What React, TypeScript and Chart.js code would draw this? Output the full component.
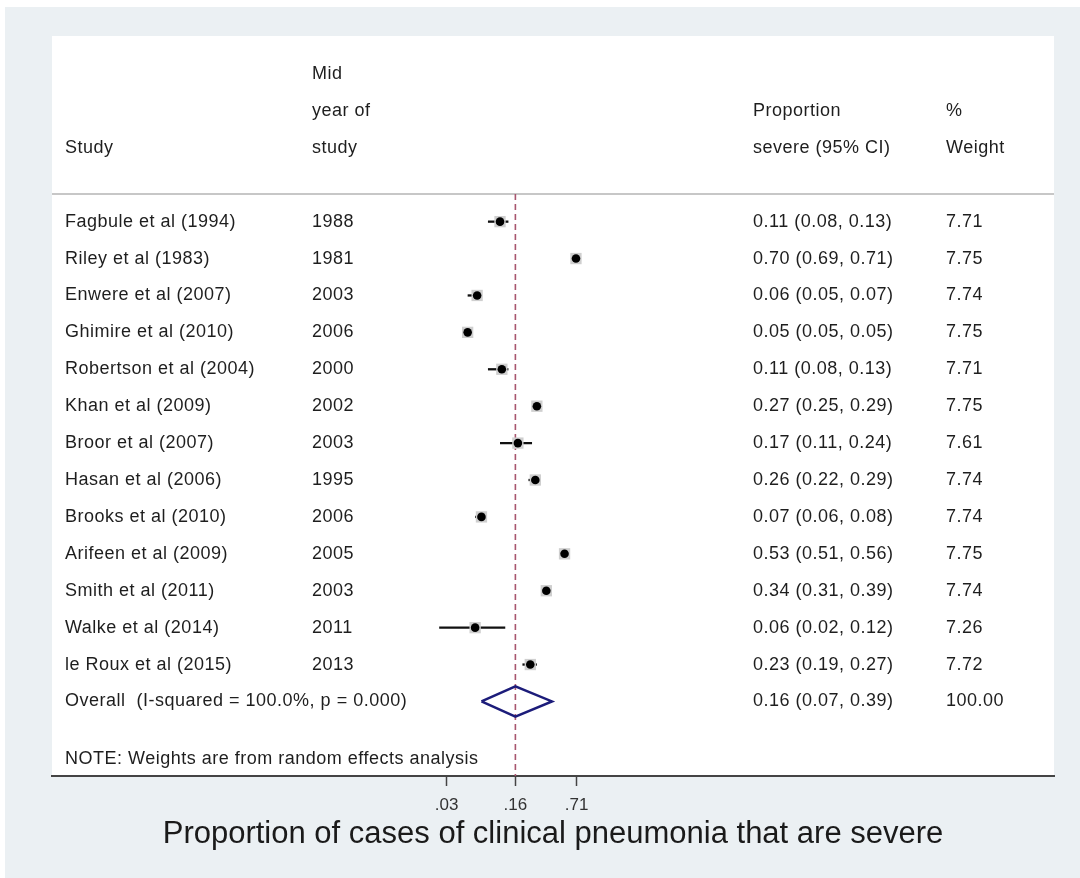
import React, { useEffect, useRef } from "react";
import { Chart, registerables } from "chart.js";

Chart.register(...registerables);

const STUDIES = [
  "Fagbule et al (1994)",
  "Riley et al (1983)",
  "Enwere et al (2007)",
  "Ghimire et al (2010)",
  "Robertson et al (2004)",
  "Khan et al (2009)",
  "Broor et al (2007)",
  "Hasan et al (2006)",
  "Brooks et al (2010)",
  "Arifeen et al (2009)",
  "Smith et al (2011)",
  "Walke et al (2014)",
  "le Roux et al (2015)",
];
const MID_YEARS = ["1988", "1981", "2003", "2006", "2000", "2002", "2003", "1995", "2006", "2005", "2003", "2011", "2013"];
const ESTIMATES = [0.11, 0.7, 0.063, 0.05, 0.115, 0.27, 0.17, 0.26, 0.07, 0.53, 0.34, 0.06, 0.23];
const LOWER = [0.082, 0.69, 0.05, 0.05, 0.082, 0.25, 0.11, 0.22, 0.06, 0.51, 0.31, 0.025, 0.19];
const UPPER = [0.135, 0.71, 0.07, 0.05, 0.135, 0.29, 0.24, 0.29, 0.08, 0.56, 0.39, 0.125, 0.27];
const CI_TEXT = [
  "0.11 (0.08, 0.13)",
  "0.70 (0.69, 0.71)",
  "0.06 (0.05, 0.07)",
  "0.05 (0.05, 0.05)",
  "0.11 (0.08, 0.13)",
  "0.27 (0.25, 0.29)",
  "0.17 (0.11, 0.24)",
  "0.26 (0.22, 0.29)",
  "0.07 (0.06, 0.08)",
  "0.53 (0.51, 0.56)",
  "0.34 (0.31, 0.39)",
  "0.06 (0.02, 0.12)",
  "0.23 (0.19, 0.27)",
];
const WEIGHTS = ["7.71", "7.75", "7.74", "7.75", "7.71", "7.75", "7.61", "7.74", "7.74", "7.75", "7.74", "7.26", "7.72"];

const OVERALL_LABEL = "Overall  (I-squared = 100.0%, p = 0.000)";
const OVERALL_EST = 0.16;
const OVERALL_LO = 0.07;
const OVERALL_HI = 0.39;
const OVERALL_TEXT = "0.16 (0.07, 0.39)";
const OVERALL_WEIGHT = "100.00";
const NOTE = "NOTE: Weights are from random effects analysis";

const X_TICKS = [0.03, 0.16, 0.71];
const X_TICK_LABELS = [".03", ".16", ".71"];
const X_TITLE = "Proportion of cases of clinical pneumonia that are severe";

const HEADER_STUDY = ["Study"];
const HEADER_YEAR = ["Mid", "year of", "study"];
const HEADER_PROP = ["Proportion", "severe (95% CI)"];
const HEADER_WEIGHT = ["%", "Weight"];

const X_MIN = 2e-6;
const X_MAX = 8e4;
const Y_MIN = -4.03;
const Y_MAX = 16.02;
const HEADER_LINE_ROW = 0.25;
const OVERALL_ROW = STUDIES.length + 1;
const NOTE_ROW = 15.55;

const FONT = '"Liberation Sans", Arial, Helvetica, sans-serif';

export default function App() {
  const ref = useRef<HTMLCanvasElement | null>(null);

  useEffect(() => {
    document.body.style.margin = "0";
    const canvas = ref.current;
    if (!canvas) return;

    const bgPlugin = {
      id: "bg",
      beforeDraw(chart: any) {
        const { ctx, chartArea } = chart;
        ctx.save();
        ctx.fillStyle = "#ffffff";
        ctx.fillRect(0, 0, chart.width, chart.height);
        ctx.fillStyle = "#ebf0f3";
        ctx.fillRect(5, 7, chart.width - 5, chart.height - 7);
        ctx.fillStyle = "#ffffff";
        ctx.fillRect(chartArea.left, chartArea.top, chartArea.right - chartArea.left, chartArea.bottom - chartArea.top);
        const y = chart.scales.y.getPixelForValue(HEADER_LINE_ROW);
        ctx.strokeStyle = "#b4b4b4";
        ctx.lineWidth = 1.5;
        ctx.beginPath();
        ctx.moveTo(chartArea.left, y);
        ctx.lineTo(chartArea.right, y);
        ctx.stroke();
        ctx.restore();
      },
    };

    const textPlugin = {
      id: "tableText",
      afterDraw(chart: any) {
        const { ctx, chartArea } = chart;
        const ys = chart.scales.y;
        const L = chartArea.left;
        const colStudy = L + 13;
        const colYear = L + 260;
        const colProp = L + 701;
        const colWeight = L + 894;
        ctx.save();
        ctx.fillStyle = "#1e1e1e";
        ctx.font = `18px ${FONT}`;
        ctx.textBaseline = "middle";
        ctx.textAlign = "left";
        try {
          (ctx as any).letterSpacing = "0.5px";
        } catch (e) {}
        const put = (t: string, x: number, row: number) => ctx.fillText(t, x, ys.getPixelForValue(row));
        HEADER_STUDY.forEach((t, i) => put(t, colStudy, -1 - (HEADER_STUDY.length - 1 - i)));
        HEADER_YEAR.forEach((t, i) => put(t, colYear, -1 - (HEADER_YEAR.length - 1 - i)));
        HEADER_PROP.forEach((t, i) => put(t, colProp, -1 - (HEADER_PROP.length - 1 - i)));
        HEADER_WEIGHT.forEach((t, i) => put(t, colWeight, -1 - (HEADER_WEIGHT.length - 1 - i)));
        STUDIES.forEach((s, i) => {
          const r = i + 1;
          put(s, colStudy, r);
          put(MID_YEARS[i], colYear, r);
          put(CI_TEXT[i], colProp, r);
          put(WEIGHTS[i], colWeight, r);
        });
        put(OVERALL_LABEL, colStudy, OVERALL_ROW);
        put(OVERALL_TEXT, colProp, OVERALL_ROW);
        put(OVERALL_WEIGHT, colWeight, OVERALL_ROW);
        put(NOTE, colStudy, NOTE_ROW);
        ctx.restore();
      },
    };

    const ciDatasets = STUDIES.map((_, i) => ({
      type: "scatter" as const,
      data: [
        { x: LOWER[i], y: i + 1 },
        { x: UPPER[i], y: i + 1 },
      ],
      showLine: true,
      borderColor: "#111111",
      borderWidth: 2.3,
      pointRadius: 0,
      order: 3,
    }));

    const chart = new Chart(canvas, {
      type: "scatter",
      data: {
        datasets: [
          {
            data: [
              { x: OVERALL_EST, y: HEADER_LINE_ROW },
              { x: OVERALL_EST, y: Y_MAX },
            ],
            showLine: true,
            borderColor: "#a8566f",
            borderWidth: 1.6,
            borderDash: [6, 4],
            pointRadius: 0,
            order: 5,
          } as any,
          ...ciDatasets,
          {
            data: ESTIMATES.map((v, i) => ({ x: v, y: i + 1 })),
            pointStyle: "rect",
            pointRadius: 8,
            backgroundColor: "#cfcfcf",
            borderWidth: 0,
            order: 2,
          },
          {
            data: ESTIMATES.map((v, i) => ({ x: v, y: i + 1 })),
            pointStyle: "circle",
            pointRadius: 4.3,
            backgroundColor: "#000000",
            borderWidth: 0,
            order: 1,
          },
          {
            data: [
              { x: OVERALL_LO, y: OVERALL_ROW },
              { x: OVERALL_EST, y: OVERALL_ROW - 0.41 },
              { x: OVERALL_HI, y: OVERALL_ROW },
              { x: OVERALL_EST, y: OVERALL_ROW + 0.41 },
              { x: OVERALL_LO, y: OVERALL_ROW },
            ],
            showLine: true,
            borderColor: "#1c1c7a",
            borderWidth: 2.5,
            borderJoinStyle: "miter",
            pointRadius: 0,
            order: 0,
          } as any,
        ],
      },
      options: {
        responsive: false,
        animation: false,
        events: [],
        layout: { padding: { left: 52, right: 26, top: 36, bottom: 25 } },
        plugins: {
          legend: { display: false },
          tooltip: { enabled: false },
        },
        scales: {
          x: {
            type: "logarithmic",
            min: X_MIN,
            max: X_MAX,
            afterBuildTicks: (scale: any) => {
              scale.ticks = X_TICKS.map((v) => ({ value: v }));
            },
            afterFit: (scale: any) => {
              scale.height = 77;
            },
            ticks: {
              autoSkip: false,
              maxRotation: 0,
              padding: 9,
              color: "#333333",
              font: { family: FONT, size: 17 },
              callback: (_v: any, i: number) => X_TICK_LABELS[i],
            },
            grid: { drawOnChartArea: false, drawTicks: true, tickLength: 10, tickWidth: 1.5, color: "#444444" },
            border: { display: true, color: "#444444", width: 2 },
            title: {
              display: true,
              text: X_TITLE,
              color: "#1a1a1a",
              font: { family: FONT, size: 31 },
              padding: { top: 0, bottom: 0 },
            },
          },
          y: {
            type: "linear",
            display: false,
            reverse: true,
            min: Y_MIN,
            max: Y_MAX,
          },
        },
      },
      plugins: [bgPlugin, textPlugin],
    });

    return () => chart.destroy();
  }, []);

  return (
    <div style={{ width: 1080, height: 878 }}>
      <canvas ref={ref} width={1080} height={878} style={{ display: "block" }} />
    </div>
  );
}
